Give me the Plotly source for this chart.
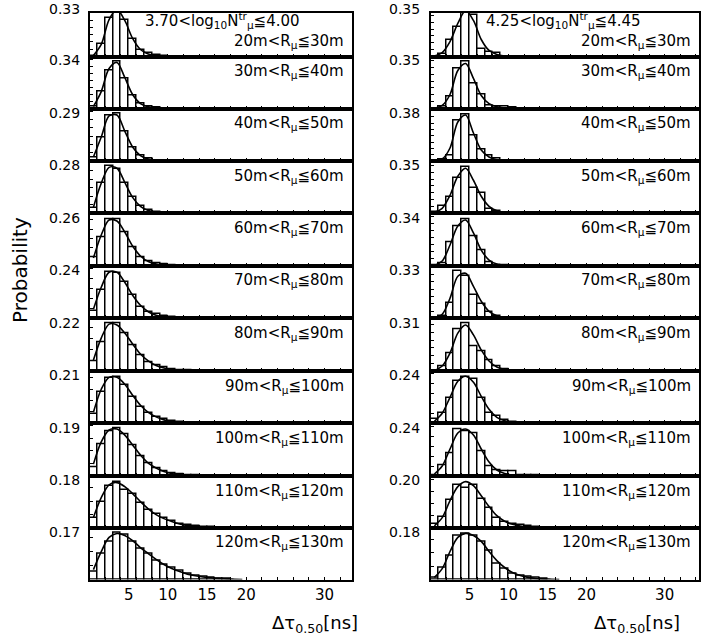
import plotly.graph_objects as go

# ---------------- data ----------------
bin_centers = [0.5, 1.5, 2.5, 3.5, 4.5, 5.5, 6.5, 7.5, 8.5, 9.5, 10.5, 11.5,
               12.5, 13.5, 14.5, 15.5, 16.5, 17.5, 18.5, 19.5, 20.5]
xtick_vals = [5, 10, 15, 20, 30]
xtick_text = ["5", "10", "15", "20", "30"]

r_labels = ["20m<R<sub>μ</sub>≦30m", "30m<R<sub>μ</sub>≦40m", "40m<R<sub>μ</sub>≦50m",
            "50m<R<sub>μ</sub>≦60m", "60m<R<sub>μ</sub>≦70m", "70m<R<sub>μ</sub>≦80m",
            "80m<R<sub>μ</sub>≦90m", "90m<R<sub>μ</sub>≦100m", "100m<R<sub>μ</sub>≦110m",
            "110m<R<sub>μ</sub>≦120m", "120m<R<sub>μ</sub>≦130m"]
left_title = "3.70<log<sub>10</sub>N<sup>tr</sup><sub>μ</sub>≦4.00"
right_title = "4.25<log<sub>10</sub>N<sup>tr</sup><sub>μ</sub>≦4.45"

left_ymax = [0.33, 0.34, 0.29, 0.28, 0.26, 0.24, 0.22, 0.21, 0.19, 0.18, 0.17]
right_ymax = [0.35, 0.35, 0.38, 0.35, 0.34, 0.33, 0.31, 0.24, 0.24, 0.20, 0.18]

# left column (3.70 < log10 N <= 4.00)
L1_hist = [0.003, 0.089, 0.268, 0.323, 0.254, 0.117, 0.048, 0.023, 0.007, 0.002]
L1_fit = [0.007, 0.083, 0.254, 0.323, 0.248, 0.124, 0.048, 0.017, 0.006, 0.001, 0]
L2_hist = [0.012, 0.118, 0.271, 0.331, 0.213, 0.094, 0.035, 0.016, 0.007, 0.002]
L2_fit = [0.014, 0.120, 0.283, 0.326, 0.220, 0.099, 0.035, 0.012, 0.004, 0.001, 0]
L3_hist = [0.020, 0.139, 0.272, 0.284, 0.181, 0.079, 0.033, 0.015, 0.006, 0.002]
L3_fit = [0.024, 0.145, 0.272, 0.278, 0.181, 0.085, 0.033, 0.012, 0.004, 0.001, 0]
L4_hist = [0.029, 0.175, 0.274, 0.257, 0.175, 0.093, 0.041, 0.018, 0.009, 0.004]
L4_fit = [0.035, 0.175, 0.268, 0.263, 0.181, 0.093, 0.041, 0.016, 0.006, 0.002, 0.001, 0]
L5_hist = [0.047, 0.155, 0.253, 0.253, 0.184, 0.103, 0.049, 0.027, 0.015, 0.007, 0.003]
L5_fit = [0.043, 0.168, 0.249, 0.244, 0.184, 0.108, 0.054, 0.024, 0.011, 0.004, 0.002, 0.001, 0]
L6_hist = [0.037, 0.140, 0.234, 0.225, 0.184, 0.115, 0.059, 0.034, 0.020, 0.010, 0.005, 0.003]
L6_fit = [0.045, 0.155, 0.230, 0.230, 0.180, 0.115, 0.065, 0.033, 0.015, 0.007, 0.003, 0.001, 0]
L7_hist = [0.046, 0.133, 0.219, 0.219, 0.174, 0.119, 0.073, 0.040, 0.028, 0.017, 0.009, 0.005, 0.002]
L7_fit = [0.050, 0.151, 0.215, 0.211, 0.174, 0.124, 0.078, 0.046, 0.025, 0.014, 0.007, 0.003, 0.001, 0.0005, 0]
L8_hist = [0.039, 0.139, 0.197, 0.204, 0.168, 0.117, 0.073, 0.044, 0.029, 0.018, 0.011, 0.006, 0.003]
L8_fit = [0.048, 0.149, 0.201, 0.201, 0.171, 0.123, 0.079, 0.048, 0.028, 0.015, 0.009, 0.004, 0.002, 0.0004, 0]
L9_hist = [0.036, 0.127, 0.178, 0.190, 0.166, 0.123, 0.079, 0.051, 0.032, 0.020, 0.012, 0.007, 0.004, 0.002]
L9_fit = [0.047, 0.135, 0.182, 0.186, 0.162, 0.123, 0.083, 0.051, 0.032, 0.018, 0.010, 0.005, 0.002, 0.001, 0]
L10_hist = [0.035, 0.098, 0.156, 0.171, 0.140, 0.125, 0.094, 0.065, 0.050, 0.035, 0.025, 0.015, 0.009, 0.005, 0.003, 0.001]
L10_fit = [0.038, 0.113, 0.161, 0.169, 0.154, 0.128, 0.098, 0.071, 0.049, 0.034, 0.023, 0.014, 0.008, 0.005, 0.002, 0.001, 0]
L11_hist = [0.028, 0.090, 0.135, 0.165, 0.157, 0.133, 0.110, 0.090, 0.068, 0.054, 0.043, 0.031, 0.021, 0.015, 0.010, 0.006, 0.004, 0.002]
L11_fit = [0.035, 0.099, 0.149, 0.163, 0.156, 0.138, 0.113, 0.092, 0.071, 0.053, 0.039, 0.028, 0.019, 0.013, 0.009, 0.006, 0.004, 0.002, 0.001, 0]

# right column (4.25 < log10 N <= 4.45)
R1_hist = [0, 0.015, 0.122, 0.214, 0.335, 0.306, 0.056, 0.031, 0.024]
R1_fit = [0.004, 0.029, 0.109, 0.241, 0.335, 0.263, 0.124, 0.044, 0.015, 0.004, 0]
R2_hist = [0, 0.015, 0.085, 0.292, 0.341, 0.182, 0.104, 0.024, 0.017, 0.012, 0.007]
R2_fit = [0.002, 0.022, 0.102, 0.277, 0.328, 0.219, 0.095, 0.036, 0.013, 0.004, 0.001, 0]
R3_hist = [0, 0.008, 0.040, 0.317, 0.370, 0.198, 0.093, 0.040, 0.016, 0.006, 0.002]
R3_fit = [0.002, 0.016, 0.103, 0.309, 0.364, 0.222, 0.087, 0.032, 0.010, 0.003, 0.001, 0]
R4_hist = [0.012, 0.053, 0.122, 0.255, 0.341, 0.182, 0.146, 0.029, 0.017, 0.005]
R4_fit = [0.007, 0.036, 0.131, 0.270, 0.328, 0.241, 0.124, 0.051, 0.018, 0.006, 0.001, 0]
R5_hist = [0.002, 0.019, 0.165, 0.278, 0.331, 0.208, 0.113, 0.023, 0.007, 0.002]
R5_fit = [0.004, 0.035, 0.149, 0.283, 0.326, 0.234, 0.113, 0.042, 0.014, 0.004, 0.001, 0]
R6_hist = [0.002, 0.016, 0.103, 0.328, 0.291, 0.160, 0.098, 0.041, 0.014, 0.005]
R6_fit = [0.003, 0.028, 0.138, 0.289, 0.309, 0.220, 0.117, 0.048, 0.017, 0.006, 0.001, 0]
R7_hist = [0, 0.028, 0.114, 0.271, 0.308, 0.161, 0.125, 0.067, 0.028, 0.013]
R7_fit = [0.003, 0.032, 0.116, 0.245, 0.297, 0.233, 0.136, 0.065, 0.026, 0.010, 0.003, 0.001, 0]
R8_hist = [0.020, 0.050, 0.125, 0.210, 0.230, 0.220, 0.125, 0.050, 0.039, 0.017, 0.007]
R8_fit = [0.010, 0.050, 0.130, 0.210, 0.235, 0.205, 0.135, 0.070, 0.030, 0.013, 0.005, 0.002, 0]
R9_hist = [0.003, 0.055, 0.114, 0.234, 0.222, 0.214, 0.122, 0.047, 0.027, 0.022, 0.022, 0.005, 0.005, 0.005]
R9_fit = [0.010, 0.050, 0.135, 0.215, 0.235, 0.205, 0.135, 0.070, 0.030, 0.013, 0.005, 0.002, 0]
R10_hist = [0.014, 0.045, 0.114, 0.180, 0.167, 0.180, 0.118, 0.083, 0.042, 0.025, 0.017, 0.010, 0.007, 0.004]
R10_fit = [0.008, 0.042, 0.113, 0.171, 0.192, 0.175, 0.133, 0.088, 0.050, 0.027, 0.014, 0.007, 0.003, 0.001, 0]
R11_hist = [0.008, 0.045, 0.091, 0.166, 0.173, 0.166, 0.141, 0.108, 0.060, 0.041, 0.023, 0.016, 0.010, 0.005, 0.003]
R11_fit = [0.008, 0.041, 0.105, 0.158, 0.173, 0.165, 0.143, 0.105, 0.071, 0.045, 0.026, 0.015, 0.008, 0.004, 0.002, 0.001, 0]

left_hists = [L1_hist, L2_hist, L3_hist, L4_hist, L5_hist, L6_hist, L7_hist, L8_hist, L9_hist, L10_hist, L11_hist]
left_fits = [L1_fit, L2_fit, L3_fit, L4_fit, L5_fit, L6_fit, L7_fit, L8_fit, L9_fit, L10_fit, L11_fit]
right_hists = [R1_hist, R2_hist, R3_hist, R4_hist, R5_hist, R6_hist, R7_hist, R8_hist, R9_hist, R10_hist, R11_hist]
right_fits = [R1_fit, R2_fit, R3_fit, R4_fit, R5_fit, R6_fit, R7_fit, R8_fit, R9_fit, R10_fit, R11_fit]

# ---------------- layout geometry (pixels) ----------------
W, H = 701, 635
row_edges = [13, 56.5, 108.5, 161, 213.3, 266, 318.3, 371, 423.3, 476, 527.7, 579.5]
col_edges = [(89.5, 352), (430.5, 699)]
x_max = [33.5, 34.4]
PX_PER_LABEL = 48.0
FONT = "DejaVu Sans"

fig = go.Figure()
annotations = []
layout_axes = {}

columns = [(left_hists, left_fits, left_ymax, left_title),
           (right_hists, right_fits, right_ymax, right_title)]

for c, (hists, fits, ymaxs, ttl) in enumerate(columns):
    x0, x1 = col_edges[c]
    for r in range(11):
        n = c * 11 + r + 1
        xa = "x" if n == 1 else f"x{n}"
        ya = "y" if n == 1 else f"y{n}"
        top, bot = row_edges[r], row_edges[r + 1]
        L = ymaxs[r]
        ytop = L * (bot - top) / PX_PER_LABEL
        h = hists[r]
        f = fits[r]
        fig.add_trace(go.Bar(
            x=bin_centers[:len(h)], y=h, width=1,
            marker=dict(color="white", line=dict(color="black", width=1.5)),
            xaxis=xa, yaxis=ya, showlegend=False, hoverinfo="skip"))
        fig.add_trace(go.Scatter(
            x=bin_centers[:len(f)], y=f, mode="lines",
            line=dict(color="black", width=1.6, shape="spline", smoothing=0.9),
            xaxis=xa, yaxis=ya, showlegend=False, hoverinfo="skip"))
        kx = "xaxis" if n == 1 else f"xaxis{n}"
        ky = "yaxis" if n == 1 else f"yaxis{n}"
        layout_axes[kx] = dict(
            domain=[x0 / W, x1 / W], range=[0, x_max[c]], anchor=ya,
            showline=True, mirror=True, linecolor="black", linewidth=2,
            showgrid=False, zeroline=False, ticks="",
            tickmode="array", tickvals=xtick_vals, ticktext=xtick_text,
            showticklabels=(r == 10),
            tickfont=dict(family=FONT, size=15, color="black"),
            minor=dict(tickmode="linear", tick0=0, dtick=2, ticks="inside",
                       ticklen=3, tickcolor="black", showgrid=False),
            fixedrange=True)
        layout_axes[ky] = dict(
            domain=[1 - bot / H, 1 - top / H], range=[0, ytop], anchor=xa,
            showline=True, mirror=True, linecolor="black", linewidth=2,
            showgrid=False, zeroline=False, tickmode="linear", tick0=0, dtick=0.05,
            ticks="inside", ticklen=3, tickcolor="black", showticklabels=False,
            fixedrange=True)
        # y label at the value L (converted through the panel's own y scale)
        y_lab_paper = (1 - bot / H) + (L / ytop) * ((bot - top) / H)
        annotations.append(dict(
            text=f"{L:.2f}", x=(x0 - 8) / W, xref="paper", y=y_lab_paper, yref="paper",
            xanchor="right", yanchor="middle", showarrow=False,
            font=dict(family=FONT, size=14, color="black")))
        # R label
        ry = 42 if r == 0 else top + 15
        annotations.append(dict(
            text=r_labels[r], x=(x1 - 6) / W, xref="paper", y=1 - ry / H, yref="paper",
            xanchor="right", yanchor="middle", showarrow=False,
            font=dict(family=FONT, size=15, color="black")))
    # column title (log10 N)
    annotations.append(dict(
        text=ttl, x=(222 if c == 0 else 563) / W, xref="paper", y=1 - 21 / H, yref="paper",
        xanchor="center", yanchor="middle", showarrow=False,
        font=dict(family=FONT, size=15, color="black")))
    # x-axis title
    annotations.append(dict(
        text="Δτ<sub>0.50</sub>[ns]", x=(315 if c == 0 else 637) / W, xref="paper",
        y=1 - 624 / H, yref="paper", xanchor="center", yanchor="middle", showarrow=False,
        font=dict(family=FONT, size=18, color="black")))

annotations.append(dict(
    text="Probability", x=20 / W, xref="paper", y=1 - 270 / H, yref="paper",
    xanchor="center", yanchor="middle", textangle=-90, showarrow=False,
    font=dict(family=FONT, size=20, color="black")))

fig.update_layout(
    width=W, height=H, margin=dict(l=0, r=0, t=0, b=0),
    paper_bgcolor="white", plot_bgcolor="white",
    barmode="overlay", bargap=0, annotations=annotations,
    font=dict(family=FONT, color="black"),
    **layout_axes)

fig.write_html("out.html")
